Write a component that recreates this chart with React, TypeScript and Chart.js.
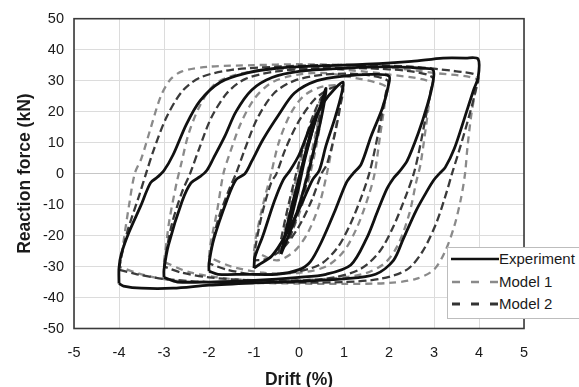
import React, { useEffect, useRef } from "react";
import { Chart, registerables } from "chart.js";

Chart.register(...registerables);

type P = [number, number];

// Axis settings
const driftMin = -5;
const driftMax = 5;
const driftStep = 1;
const forceMin = -50;
const forceMax = 50;
const forceStep = 10;

const xTitle = "Drift (%)";
const yTitle = "Reaction force (kN)";
const seriesNames = ["Experiment", "Model 1", "Model 2"];

// ---------- Experiment (drift %, force kN) ----------
const expLoop4: P[] = [
  [-4.0, -35.5], [-4.0, -30.5], [-3.95, -26], [-3.78, -19], [-3.52, -10.5], [-3.3, -3], [-3.15, -1.2],
  [-3.0, 1], [-2.8, 6], [-2.5, 16], [-2.2, 23.5], [-1.75, 29.5], [-1.15, 32.5], [-0.5, 34],
  [0.5, 34.8], [1.5, 35.3], [2.5, 36.2], [3.2, 37.3], [3.7, 37.3], [3.98, 37], [3.98, 31],
  [3.88, 27], [3.68, 18], [3.45, 8], [3.25, 2], [3.12, 0], [3.0, -2], [2.85, -5.5], [2.6, -12],
  [2.32, -21], [2.1, -28], [1.7, -32.5], [1.0, -34], [0, -34.8], [-1, -35.3], [-2, -36],
  [-2.8, -37], [-3.5, -37], [-3.9, -36.3], [-4.0, -35.5],
];
const expLoop3: P[] = [
  [-3.0, -33.5], [-3.0, -31], [-2.9, -23], [-2.6, -9], [-2.4, -3], [-2.2, -1], [-2.05, 1],
  [-1.9, 5], [-1.65, 12], [-1.4, 20], [-1.05, 27], [-0.6, 31], [0, 33], [1, 34], [2, 34.5],
  [2.7, 34], [2.98, 33.5], [2.97, 29], [2.85, 22], [2.65, 13], [2.4, 4], [2.22, 0.5],
  [2.1, -1.5], [1.95, -5], [1.75, -12], [1.5, -21], [1.15, -29.5], [0.6, -32.5], [0, -33.5],
  [-1, -34.5], [-2, -35], [-2.7, -35], [-3.0, -33.5],
];
const expLoop2: P[] = [
  [-2.0, -31.5], [-2.0, -29], [-1.89, -21], [-1.6, -8.5], [-1.4, -2], [-1.2, 0], [-1.05, 4],
  [-0.8, 11], [-0.45, 19], [-0.1, 26], [0.4, 30], [1, 31.5], [1.6, 32], [2.0, 31.5],
  [1.98, 28], [1.85, 21], [1.6, 12], [1.38, 3], [1.2, 0], [1.05, -3], [0.8, -12], [0.5, -22],
  [0.25, -28.5], [0, -31], [-0.5, -32.5], [-1.2, -32.5], [-1.8, -32.5], [-2.0, -31.5],
];
const expLoop1: P[] = [
  [-1.0, -30.5], [-0.98, -27], [-0.8, -20], [-0.55, -9], [-0.35, -2], [-0.2, 1], [0, 6],
  [0.25, 15], [0.55, 23], [0.8, 27.5], [0.98, 29.5], [0.95, 26], [0.8, 18], [0.6, 9],
  [0.45, 1], [0.3, -2], [0.05, -10], [-0.3, -20], [-0.6, -26.5], [-0.9, -29.5], [-1.0, -30.5],
];
const expLoopSmall: P[] = [
  [-0.4, -26], [-0.3, -19], [-0.1, -7], [0.1, 4], [0.3, 14], [0.5, 23], [0.6, 27.5],
  [0.55, 22], [0.42, 13], [0.25, 3], [0.05, -8], [-0.15, -17], [-0.4, -26],
];
const expLoopTiny: P[] = [
  [-0.25, -19], [-0.1, -9], [0.05, 1], [0.2, 10], [0.38, 19], [0.28, 13], [0.12, 4],
  [-0.03, -6], [-0.25, -19],
];

// ---------- Model 1 ----------
const m1Loop4: P[] = [
  [-4.0, -30], [-3.96, -28], [-3.89, -21], [-3.78, -10.5], [-3.65, 0], [-3.5, 5], [-3.3, 14.5],
  [-3.07, 25], [-2.85, 30.5], [-2.6, 33], [-2, 34.5], [-1, 35], [0, 35.3], [1, 35], [2, 34.2],
  [3, 32.5], [3.95, 30.5], [3.92, 27], [3.82, 18], [3.74, 8], [3.69, 0], [3.6, -8],
  [3.45, -17], [3.25, -25], [3.0, -31], [2.6, -34], [2, -35.3], [1, -35.6], [0, -35.5],
  [-1, -35.3], [-2, -35], [-2.8, -34.5], [-3.5, -32.5], [-4.0, -30],
];
const m1Loop3: P[] = [
  [-3, -28.5], [-2.97, -25], [-2.88, -15], [-2.72, -3], [-2.62, 3], [-2.45, 13], [-2.2, 22],
  [-1.9, 28.5], [-1.5, 31.5], [-0.8, 33.5], [0, 34], [1, 33.5], [2, 32], [2.95, 29.5],
  [2.92, 26], [2.82, 15], [2.7, 3], [2.6, -3], [2.45, -13], [2.2, -23], [1.9, -29],
  [1.4, -32.5], [0.6, -34], [-0.5, -34.5], [-1.5, -34], [-2.4, -32], [-3, -28.5],
];
const m1Loop2: P[] = [
  [-2, -27], [-1.97, -23], [-1.82, -12], [-1.68, 0], [-1.55, 6], [-1.3, 16], [-1.0, 24],
  [-0.65, 29], [-0.2, 31.5], [0.5, 32.5], [1.2, 31], [1.95, 28], [1.92, 24], [1.8, 12],
  [1.68, 0], [1.55, -7], [1.3, -17], [1.0, -25], [0.6, -30], [0, -32], [-0.8, -32],
  [-1.5, -30], [-2, -27],
];
const m1Loop1: P[] = [
  [-1, -25], [-0.95, -20], [-0.8, -10], [-0.62, 0], [-0.45, 10], [-0.2, 19], [0.1, 25],
  [0.5, 28], [0.95, 28], [0.9, 22], [0.78, 12], [0.62, 0], [0.45, -10], [0.2, -19],
  [-0.1, -25], [-0.5, -28], [-1, -25],
];
const m1LoopSmall: P[] = [
  [-0.45, -26], [-0.3, -17], [-0.12, -5], [0.08, 6], [0.28, 16], [0.48, 24], [0.56, 26],
  [0.5, 19], [0.4, 10], [0.25, 0], [0.05, -11], [-0.2, -20], [-0.45, -26],
];
const m1LoopTiny: P[] = [
  [-0.35, -22], [-0.2, -13], [0, -2], [0.18, 8], [0.36, 17], [0.48, 22], [0.4, 15],
  [0.25, 5], [0.08, -6], [-0.12, -15], [-0.35, -22],
];

// ---------- Model 2 ----------
const m2Loop4: P[] = [
  [-4, -31], [-3.95, -27], [-3.8, -18], [-3.55, -7], [-3.4, 0], [-3.22, 8], [-2.95, 18],
  [-2.6, 26.5], [-2.2, 31], [-1.5, 33.5], [-0.5, 34.5], [0.5, 35], [1.5, 35], [2.5, 34.5],
  [3.5, 33], [3.97, 31.5], [3.93, 27], [3.75, 17], [3.55, 7], [3.4, 0], [3.28, -6],
  [3.05, -16], [2.75, -25], [2.4, -31], [1.8, -34], [1, -35], [0, -35.2], [-1, -35.2],
  [-2, -35], [-3, -34], [-3.6, -32.5], [-4, -31],
];
const m2Loop3: P[] = [
  [-3, -30], [-2.96, -26], [-2.82, -16], [-2.6, -6], [-2.42, 0], [-2.22, 8], [-1.95, 18],
  [-1.6, 26], [-1.2, 30.5], [-0.5, 33], [0.5, 34], [1.5, 34], [2.5, 33], [2.97, 31],
  [2.93, 27], [2.8, 17], [2.65, 6], [2.55, 0], [2.38, -7], [2.1, -17], [1.8, -25],
  [1.4, -30.5], [0.8, -33.5], [0, -34.5], [-1, -34.5], [-2, -33.5], [-2.6, -32], [-3, -30],
];
const m2Loop2: P[] = [
  [-2, -29], [-1.96, -25], [-1.8, -15], [-1.55, -5], [-1.4, 0], [-1.2, 8], [-0.92, 18],
  [-0.55, 26], [-0.1, 30], [0.6, 32], [1.4, 32], [1.97, 30], [1.93, 26], [1.8, 16],
  [1.66, 6], [1.56, 0], [1.4, -7], [1.15, -16], [0.85, -24], [0.45, -29.5], [-0.2, -32],
  [-1, -32.5], [-1.6, -31], [-2, -29],
];
const m2Loop1: P[] = [
  [-1, -28], [-0.96, -23], [-0.82, -13], [-0.62, -3], [-0.5, 0], [-0.3, 8], [0, 17],
  [0.35, 24], [0.7, 27.5], [0.97, 28], [0.92, 22], [0.8, 13], [0.62, 3], [0.5, 0],
  [0.3, -8], [0, -17], [-0.35, -24], [-0.7, -27.5], [-1, -28],
];
const m2LoopSmall: P[] = [
  [-0.45, -25], [-0.28, -13], [-0.08, -1], [0.12, 10], [0.32, 19], [0.52, 25], [0.45, 18],
  [0.32, 7], [0.17, -3], [-0.03, -13], [-0.22, -21], [-0.45, -25],
];

const expLoops = [expLoop4, expLoop3, expLoop2, expLoop1, expLoopSmall, expLoopTiny];
const m1Loops = [m1Loop4, m1Loop3, m1Loop2, m1Loop1, m1LoopSmall, m1LoopTiny];
const m2Loops = [m2Loop4, m2Loop3, m2Loop2, m2Loop1, m2LoopSmall];

const FONT = '"Liberation Sans", Arial, Helvetica, sans-serif';

const framePlugin = {
  id: "frame",
  afterDraw(chart: any) {
    const { ctx, chartArea: a } = chart;
    ctx.save();
    ctx.strokeStyle = "#3a3a3a";
    ctx.lineWidth = 1.6;
    ctx.strokeRect(a.left, a.top, a.right - a.left, a.bottom - a.top);
    ctx.restore();
  },
};

const gridColor = (ctx: any) => (ctx.tick && ctx.tick.value === 0 ? "#c6c6c6" : "#dcdcdc");

export default function App() {
  const ref = useRef<HTMLCanvasElement>(null);

  useEffect(() => {
    if (!ref.current) return;
    const datasets: any[] = [];
    const add = (loops: P[][], label: string, color: string, width: number, dash: number[]) => {
      loops.forEach((loop) => {
        datasets.push({
          label,
          data: loop.map(([x, y]) => ({ x, y })),
          borderColor: color,
          backgroundColor: color,
          borderWidth: width,
          borderDash: dash,
          showLine: true,
          pointRadius: 0,
          tension: 0.3,
          fill: false,
        });
      });
    };
    add(expLoops, seriesNames[0], "#111111", 2.8, []);
    add(m2Loops, seriesNames[2], "#3a3a3a", 2.3, [8, 4]);
    add(m1Loops, seriesNames[1], "#8a8a8a", 2.3, [7, 5]);

    const chart = new Chart(ref.current, {
      type: "scatter",
      data: { datasets },
      plugins: [framePlugin],
      options: {
        animation: false,
        responsive: false,
        devicePixelRatio: 1,
        events: [],
        layout: { padding: { top: 11.5, right: 55, left: 0, bottom: 0 } },
        plugins: { legend: { display: false }, tooltip: { enabled: false } },
        scales: {
          x: {
            type: "linear",
            min: driftMin,
            max: driftMax,
            ticks: {
              stepSize: driftStep,
              color: "#1a1a1a",
              font: { family: FONT, size: 14.5 },
              padding: 16,
              callback: (v: any) => String(v),
            },
            grid: { color: gridColor, drawTicks: false, lineWidth: 1 },
            border: { display: false },
            title: {
              display: true,
              text: xTitle,
              color: "#1a1a1a",
              font: { family: FONT, size: 17.5, weight: "bold" },
              padding: { top: 0, bottom: -4 },
            },
            afterFit: (s: any) => {
              s.height = 58.5;
            },
          },
          y: {
            type: "linear",
            min: forceMin,
            max: forceMax,
            ticks: {
              stepSize: forceStep,
              color: "#1a1a1a",
              font: { family: FONT, size: 14.5 },
              padding: 10,
              callback: (v: any) => String(v),
            },
            grid: { color: gridColor, drawTicks: false, lineWidth: 1 },
            border: { display: false },
            title: {
              display: true,
              text: yTitle,
              color: "#1a1a1a",
              font: { family: FONT, size: 17.5, weight: "bold" },
              padding: { top: 15, bottom: 0 },
            },
            afterFit: (s: any) => {
              s.width = 74;
            },
          },
        },
      } as any,
    });
    return () => chart.destroy();
  }, []);

  const rowStyle = (top: number): React.CSSProperties => ({
    position: "absolute",
    left: 0,
    top: top - 10,
    height: 20,
    width: 160,
  });

  return (
    <div style={{ position: "fixed", left: 0, top: 0, width: 579, height: 387, overflow: "hidden", background: "#fff" }}>
      <canvas ref={ref} width={579} height={387} style={{ width: 579, height: 387, display: "block" }} />
      <div
        style={{
          position: "absolute",
          left: 447,
          top: 247,
          width: 150,
          height: 72,
          background: "#fff",
          border: "1px solid #bdbdbd",
          boxSizing: "border-box",
          fontFamily: FONT,
          fontSize: 15,
          color: "#1a1a1a",
        }}
      >
        <div style={rowStyle(11)}>
          <svg width={52} height={20} style={{ position: "absolute", left: 0, top: 0 }}>
            <line x1={3} y1={10} x2={51} y2={10} stroke="#111" strokeWidth={2.6} />
          </svg>
          <span style={{ position: "absolute", left: 51, top: 1, lineHeight: "18px" }}>{seriesNames[0]}</span>
        </div>
        <div style={rowStyle(34)}>
          <svg width={52} height={20} style={{ position: "absolute", left: 0, top: 0 }}>
            <line x1={4} y1={10} x2={50} y2={10} stroke="#8a8a8a" strokeWidth={2.4} strokeDasharray="8 11" />
          </svg>
          <span style={{ position: "absolute", left: 51, top: 1, lineHeight: "18px" }}>{seriesNames[1]}</span>
        </div>
        <div style={rowStyle(56)}>
          <svg width={52} height={20} style={{ position: "absolute", left: 0, top: 0 }}>
            <line x1={4} y1={10} x2={50} y2={10} stroke="#333" strokeWidth={2.8} strokeDasharray="8 11" />
          </svg>
          <span style={{ position: "absolute", left: 51, top: 1, lineHeight: "18px" }}>{seriesNames[2]}</span>
        </div>
      </div>
    </div>
  );
}
